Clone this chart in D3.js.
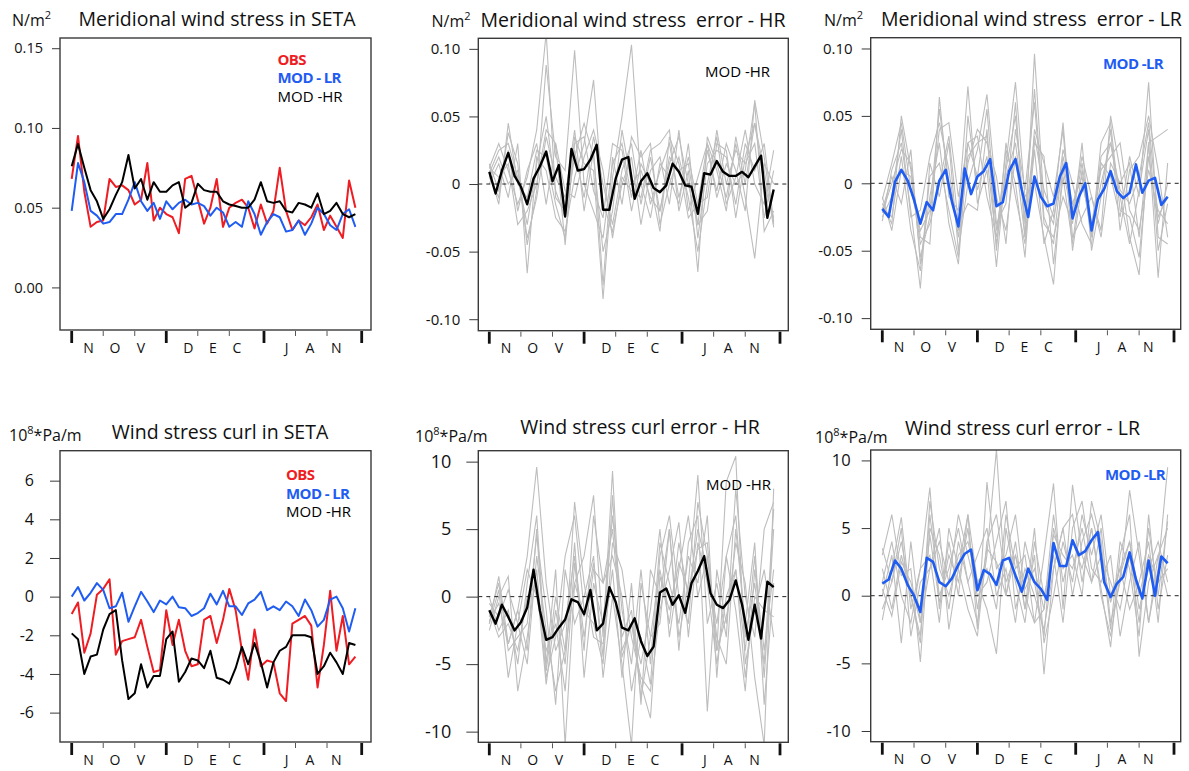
<!DOCTYPE html>
<html>
<head>
<meta charset="utf-8">
<script src="https://cdn.jsdelivr.net/npm/d3@7"></script>
<style>
body { margin: 0; background: #fff; }
svg { font-family: "Open Sans", sans-serif; }
</style>
</head>
<body>
<svg id="chart" width="1189" height="771"></svg>
<script>
// days since 1 Nov, main series every 2 days, ensemble members every 3 days
var days = d3.range(0, 91, 2);
var memberDays = d3.range(0, 91, 3);
var monthEdges = [0, 30, 61, 92];
var dekadTicks = [10, 20, 40, 50, 71, 81];
var monthLetters = ["N", "O", "V", "D", "E", "C", "J", "A", "N"];
var monthLetterDays = [5.3, 13.7, 22, 37, 44.8, 52.4, 68.2, 75.6, 83.9];

// meridional wind stress in SETA (N/m2)
var stressObs = [0.068, 0.095, 0.060, 0.038, 0.041, 0.042, 0.068, 0.063, 0.064, 0.061, 0.052, 0.055, 0.078, 0.042, 0.050, 0.046,
  0.044, 0.034, 0.068, 0.070, 0.055, 0.040, 0.050, 0.068, 0.038, 0.050, 0.053, 0.055, 0.050, 0.037, 0.052, 0.040,
  0.048, 0.075, 0.048, 0.036, 0.042, 0.039, 0.044, 0.052, 0.036, 0.045, 0.038, 0.031, 0.067, 0.050];
var stressLR = [0.048, 0.078, 0.066, 0.048, 0.045, 0.040, 0.041, 0.046, 0.046, 0.055, 0.066, 0.054, 0.048, 0.053, 0.043, 0.054,
  0.049, 0.053, 0.055, 0.052, 0.053, 0.051, 0.045, 0.050, 0.047, 0.038, 0.041, 0.038, 0.054, 0.046, 0.033, 0.041,
  0.046, 0.044, 0.035, 0.036, 0.042, 0.033, 0.040, 0.050, 0.046, 0.039, 0.036, 0.046, 0.049, 0.038];
var stressHR = [0.076, 0.090, 0.075, 0.061, 0.054, 0.043, 0.049, 0.058, 0.066, 0.083, 0.062, 0.068, 0.055, 0.066, 0.060, 0.060,
  0.064, 0.066, 0.050, 0.053, 0.065, 0.061, 0.060, 0.060, 0.054, 0.052, 0.051, 0.050, 0.050, 0.055, 0.066, 0.054,
  0.053, 0.054, 0.048, 0.047, 0.053, 0.052, 0.050, 0.059, 0.046, 0.048, 0.053, 0.046, 0.044, 0.046];

// wind stress curl in SETA (10^8 Pa/m)
var curlObs = [-0.9, -0.3, -2.9, -1.9, 0.1, 0.4, 0.9, -3.0, -2.3, -2.2, -2.1, -1.2, -2.6, -3.9, -3.8, -0.7,
  -2.5, -1.2, -2.8, -3.6, -3.5, -1.2, -1.0, -2.4, -1.2, 0.4, -0.7, -2.8, -4.3, -1.7, -3.6, -3.3,
  -3.4, -5.0, -5.4, -1.4, -1.2, -1.0, -1.5, -4.7, -2.5, 0.3, -2.8, -1.0, -3.5, -3.1];
var curlLR = [0.0, 0.5, -0.2, 0.2, 0.7, 0.35, -0.6, -0.5, 0.2, -1.3, -0.5, 0.25, -0.25, -0.8, -0.2, -0.4,
  0.0, -0.55, -0.6, -1.0, -0.85, -0.6, 0.15, -0.4, 0.3, -0.5, -0.5, -0.95, -0.35, -0.15, 0.25, -0.7,
  -0.5, -0.7, -0.25, -0.5, -1.0, -0.15, -0.7, -1.55, -1.2, -0.15, 0.0, -0.6, -1.8, -0.6];
var curlHR = [-1.9, -2.2, -4.0, -3.1, -3.0, -1.7, -0.9, -0.7, -3.3, -5.3, -5.0, -3.5, -4.7, -4.1, -4.1, -2.2,
  -1.8, -4.4, -3.9, -3.2, -3.3, -3.7, -2.8, -4.2, -4.3, -4.5, -3.7, -2.6, -3.5, -2.4, -3.4, -4.7,
  -3.4, -2.8, -2.6, -2.0, -2.0, -2.0, -2.1, -4.0, -3.6, -2.9, -3.4, -4.0, -2.4, -2.5];

// model errors, ensemble mean
var stressErrHR = [0.009, -0.007, 0.010, 0.023, 0.006, -0.002, -0.015, 0.004, 0.013, 0.024, 0.002, 0.014, -0.024, 0.026, 0.010, 0.011,
  0.018, 0.029, -0.019, -0.019, 0.004, 0.018, 0.020, -0.011, 0.002, 0.008, -0.003, -0.006, -0.001, 0.015, 0.009, -0.001,
  -0.002, -0.022, 0.008, 0.007, 0.017, 0.009, 0.006, 0.006, 0.009, 0.005, 0.013, 0.021, -0.025, -0.004];
var stressErrLR = [-0.019, -0.025, 0.001, 0.010, 0.002, -0.012, -0.030, -0.014, -0.020, 0.002, 0.010, -0.014, -0.032, 0.011, -0.008, 0.005,
  0.009, 0.018, -0.017, -0.014, 0.009, 0.018, -0.005, -0.025, 0.005, -0.010, -0.017, -0.015, 0.005, 0.015, -0.026, -0.010,
  0.000, -0.035, -0.012, -0.004, 0.009, -0.006, -0.011, -0.007, 0.014, -0.007, 0.002, 0.004, -0.016, -0.010];
var curlErrHR = [-1.0, -2.0, -0.6, -1.5, -2.5, -1.9, -0.8, 2.0, -1.0, -3.2, -3.0, -2.3, -1.7, -0.2, -0.4, -1.3,
  0.5, -2.5, -2.0, 0.7, -0.4, -2.3, -2.5, -1.6, -3.3, -4.4, -3.7, 0.3, 0.6, -0.6, 0.1, -1.2,
  1.0, 1.9, 3.0, 0.25, -0.6, -0.85, -0.25, 1.2, -0.6, -3.2, -0.6, -3.1, 1.1, 0.7];
var curlErrLR = [0.9, 1.2, 2.6, 2.0, 0.8, 0.0, -1.2, 2.8, 2.5, 1.0, 0.7, 1.3, 2.3, 3.1, 3.4, 0.4,
  1.9, 1.6, 0.8, 2.6, 2.8, 1.5, 0.3, 2.0, 1.0, 0.5, -0.3, 3.9, 2.2, 2.2, 4.1, 3.0,
  3.3, 4.1, 4.7, 1.0, -0.1, 0.9, 1.4, 3.2, 1.2, -0.2, 2.6, 0.0, 2.9, 2.4];

// individual members (grey)
var stressErrHRMembers = [
  [0.012, 0.030, 0.010, -0.015, 0.005, 0.040, 0.112, -0.010, -0.020, 0.025, -0.010, 0.035, 0.000, -0.030, 0.010, 0.030, -0.015, 0.020, -0.020, 0.015, 0.035, 0.000, -0.030, 0.025, -0.005, 0.030, 0.010, -0.020, 0.062, 0.020, -0.030],
  [0.005, -0.010, 0.038, 0.015, -0.045, -0.005, 0.088, 0.020, 0.010, 0.099, 0.000, -0.020, -0.040, 0.015, 0.030, -0.010, 0.025, -0.015, 0.010, 0.030, -0.010, 0.020, -0.015, -0.010, 0.040, 0.000, 0.025, 0.015, 0.030, -0.025, 0.010],
  [0.000, 0.015, -0.010, 0.030, -0.066, 0.020, 0.010, -0.025, -0.035, 0.005, 0.030, 0.077, -0.015, -0.035, 0.000, 0.020, -0.030, 0.010, 0.020, -0.015, 0.040, -0.020, 0.005, 0.030, 0.010, -0.020, 0.035, 0.000, 0.045, 0.010, -0.032],
  [0.015, -0.005, 0.025, -0.020, 0.010, 0.030, -0.015, 0.030, -0.045, 0.035, 0.015, 0.010, -0.085, 0.005, 0.050, 0.103, 0.000, -0.025, 0.015, 0.005, -0.015, 0.030, -0.040, 0.015, 0.025, 0.020, -0.015, 0.030, 0.010, 0.030, -0.028],
  [0.005, 0.020, 0.000, 0.010, -0.040, -0.010, 0.035, 0.005, -0.010, 0.040, -0.020, 0.025, -0.075, 0.020, -0.015, 0.035, 0.020, 0.030, -0.030, 0.000, 0.020, -0.010, -0.050, 0.000, 0.035, -0.015, 0.005, 0.040, 0.000, -0.015, 0.025],
  [0.010, -0.015, 0.045, 0.000, -0.010, 0.025, 0.020, -0.015, -0.040, 0.030, 0.035, -0.005, -0.025, 0.030, 0.025, -0.020, 0.015, 0.000, -0.035, 0.035, 0.015, -0.025, -0.015, 0.030, -0.010, 0.015, 0.000, 0.010, 0.060, -0.035, -0.020],
  [0.012, 0.005, 0.015, -0.030, -0.020, 0.000, 0.040, 0.030, -0.005, -0.010, 0.020, 0.040, 0.010, -0.040, 0.005, -0.005, -0.010, 0.025, 0.030, 0.040, -0.020, 0.010, -0.065, 0.035, 0.015, -0.010, 0.030, -0.010, -0.055, 0.015, 0.000],
  [0.008, 0.025, 0.030, 0.005, -0.030, 0.015, 0.050, -0.005, -0.025, 0.020, 0.045, 0.020, -0.050, -0.020, 0.040, 0.000, 0.010, -0.010, -0.020, 0.020, 0.010, 0.015, -0.030, -0.020, 0.030, 0.025, -0.025, 0.020, 0.045, 0.000, -0.025]
];
var stressErrLRMembers = [
  [-0.028, 0.010, 0.030, -0.020, -0.078, 0.015, -0.010, 0.030, -0.050, 0.000, 0.025, 0.066, -0.010, -0.035, 0.020, -0.040, 0.096, -0.015, -0.030, 0.025, 0.000, -0.030, -0.045, 0.015, 0.005, -0.025, 0.020, -0.010, 0.075, -0.040, -0.045],
  [-0.015, -0.030, 0.050, 0.010, -0.040, -0.045, 0.064, -0.010, -0.020, 0.072, -0.015, 0.010, -0.062, 0.015, 0.075, -0.010, 0.000, -0.040, -0.075, 0.015, -0.020, 0.020, -0.010, -0.035, 0.050, 0.010, -0.040, -0.068, 0.030, -0.070, 0.015],
  [-0.020, 0.005, -0.015, 0.025, -0.060, -0.010, 0.030, -0.030, -0.060, 0.030, 0.035, -0.010, -0.040, 0.025, 0.000, -0.055, 0.040, 0.015, -0.010, 0.040, -0.050, 0.000, -0.030, 0.010, 0.020, 0.030, -0.020, -0.035, 0.010, -0.020, -0.030],
  [-0.025, -0.010, 0.040, -0.025, -0.020, 0.020, 0.045, 0.010, -0.040, 0.015, 0.040, 0.030, 0.005, -0.045, 0.040, -0.005, 0.060, -0.030, -0.040, -0.010, -0.030, 0.030, -0.050, -0.010, 0.040, -0.035, 0.010, 0.020, 0.050, 0.010, -0.040],
  [-0.010, -0.035, 0.010, 0.005, -0.045, -0.030, 0.000, 0.035, -0.030, -0.015, -0.020, 0.040, -0.050, 0.030, -0.010, -0.045, 0.025, -0.045, -0.020, 0.045, -0.040, -0.025, -0.010, -0.040, 0.015, 0.000, 0.015, -0.040, 0.030, 0.035, 0.040],
  [-0.022, 0.000, 0.025, 0.015, -0.055, -0.025, 0.040, 0.045, -0.010, 0.030, 0.005, 0.055, -0.030, -0.015, 0.060, -0.040, 0.030, 0.020, -0.060, 0.005, -0.045, 0.010, -0.040, 0.020, 0.030, -0.010, -0.045, -0.005, 0.040, -0.050, -0.015],
  [-0.018, -0.025, 0.020, -0.035, -0.065, 0.005, 0.015, -0.020, -0.055, 0.050, -0.005, 0.020, -0.045, 0.005, 0.030, -0.025, 0.070, -0.025, -0.045, 0.020, -0.015, 0.005, -0.040, 0.030, 0.045, -0.020, -0.025, -0.055, 0.020, -0.030, 0.000],
  [-0.012, 0.015, 0.045, -0.005, -0.035, -0.020, 0.055, 0.000, -0.035, 0.020, 0.030, 0.035, -0.035, 0.010, 0.050, -0.030, 0.035, -0.005, -0.025, 0.010, -0.025, 0.015, -0.035, 0.000, 0.030, -0.005, -0.015, 0.005, 0.045, -0.025, -0.010]
];
var curlErrHRMembers = [
  [-2.0, 1.5, -3.5, -1.0, 3.0, 9.6, 1.0, -4.0, -2.0, 3.0, -3.0, 2.0, 1.0, 5.0, -3.0, -1.0, -7.5, -3.0, 2.0, -2.0, 4.0, 0.0, 5.0, 2.0, -2.0, 3.0, 6.0, -3.0, 1.0, -5.0, 6.5],
  [0.0, -2.5, -1.0, -5.0, 1.0, 6.0, -5.0, 2.0, -11.0, 1.0, 3.0, 7.5, -3.0, 9.3, -4.0, -2.0, -5.0, -1.0, 5.0, -3.0, 2.0, 6.0, 0.0, 3.0, -4.0, 8.5, 10.4, -5.0, -1.0, 2.0, -3.0],
  [-1.5, 1.0, -4.0, -3.0, -2.0, 4.5, -1.0, -8.0, 2.0, -2.0, 0.0, 3.0, -6.0, 0.0, -5.0, -11.0, 1.0, -3.0, -2.0, 5.0, -4.0, 4.0, 6.0, -8.5, 2.0, -2.0, 4.0, 1.0, -6.0, -11.0, 8.0],
  [-2.5, 0.0, 1.5, -7.0, -3.0, 2.0, -6.0, -3.0, 3.0, 6.0, -1.0, -2.0, -5.0, 4.0, 2.0, -3.0, -6.0, -7.0, -1.0, 2.0, 5.5, -3.0, 4.0, 1.0, -5.0, 0.0, 2.0, -4.0, 3.0, -6.0, 5.0],
  [-1.0, -3.0, -2.0, -4.0, 0.0, 1.0, -6.5, -1.0, -5.0, 4.0, -6.0, 1.0, -2.0, 6.0, -1.0, -5.0, 2.0, -5.0, 4.0, 1.0, -2.0, 3.0, 1.0, 6.0, -6.0, 3.0, -1.0, -7.0, 2.0, -4.0, 2.0],
  [-0.5, -1.5, 0.5, -2.0, -5.0, 3.0, -2.5, -7.0, -4.0, 7.0, 1.0, -3.0, -3.5, 2.0, -6.0, 1.0, -8.0, 2.0, 0.0, 5.0, -3.0, 1.0, 9.0, -2.0, 1.0, -3.0, 8.0, 0.0, -3.0, 5.0, 7.0],
  [-2.0, 0.5, -6.0, -2.0, 2.0, 0.0, -4.0, -2.0, -7.0, 2.5, -4.0, 6.0, 1.0, 3.0, 0.0, -7.0, -3.0, -6.5, 3.0, 6.0, 0.0, -2.0, 7.0, 3.0, -3.0, -5.0, 5.0, -2.0, 4.0, -8.0, 1.0],
  [-1.8, -0.5, -3.5, -1.0, -4.0, 5.0, -5.5, 0.0, -4.0, 1.0, -1.5, 2.5, -4.5, 7.5, -4.5, -2.0, -6.5, -9.0, 1.5, -1.0, 2.5, 0.5, 3.5, 4.0, -4.0, -1.5, 2.0, -6.0, 0.0, -1.0, -1.5]
];
var curlErrLRMembers = [
  [3.0, 6.0, 1.5, 2.0, -4.9, 5.0, 3.0, -1.0, 4.0, 1.0, -2.0, 3.0, 10.8, 0.0, 4.0, -1.0, 3.0, -5.8, 2.0, 5.0, 6.0, 1.0, 5.0, 0.5, -3.8, 3.0, 6.0, -4.5, 1.0, 3.0, 5.0],
  [-1.8, 2.0, 5.8, -1.0, 2.0, 8.0, -1.0, 4.0, 0.0, 6.0, -2.5, 8.4, 2.0, 3.0, 6.0, 0.0, -2.0, 3.0, 8.3, -1.0, 8.2, 3.0, 1.0, 5.0, -2.0, 1.0, 7.8, 3.0, -2.0, 2.0, 9.5],
  [0.0, 3.0, -3.5, 4.0, -2.0, 2.0, 5.0, -2.5, 2.0, 6.0, 1.0, -1.0, -4.3, 5.0, 1.0, -2.0, 4.0, 0.0, 3.0, -2.0, 5.0, 7.0, 2.0, 1.0, 3.0, -3.0, 1.0, 4.0, -2.0, 3.0, 0.0],
  [2.0, -1.0, 3.0, 0.0, -3.0, 6.0, 0.0, 2.0, 5.0, 1.0, 3.0, 5.0, 0.0, 2.0, -2.0, 4.0, 1.0, -3.0, 5.0, 2.0, 3.0, 0.0, 7.0, 4.0, -2.5, 4.0, 2.0, -3.0, 6.0, -1.0, 3.0],
  [1.0, 4.0, 0.0, -2.0, 2.0, 3.0, -2.0, 5.0, 2.0, -1.0, -3.0, 4.0, 6.0, 1.0, 3.0, -1.0, 5.0, -3.5, 0.0, 4.0, 1.0, 6.0, 3.0, 6.0, 0.0, 2.0, -1.0, 1.0, 4.0, -2.0, 6.0],
  [-1.0, 1.0, 4.0, 0.0, -3.5, 7.0, 2.0, 0.0, 3.0, 4.0, 1.0, 2.0, -1.0, 6.0, 2.0, 3.0, -2.0, -1.0, 6.0, 1.0, 4.0, 2.0, 5.0, 0.0, -3.0, 1.5, 4.0, -1.0, 2.0, 4.0, 1.0],
  [3.5, 1.0, 5.0, -3.0, 1.0, 2.0, 4.0, 1.0, 6.0, 3.0, 0.0, 1.0, 4.0, 7.0, -1.0, 2.0, 0.0, -2.5, 2.0, 5.0, 0.0, 4.0, 6.0, 3.0, 1.0, -1.0, 3.0, -2.0, 5.0, 0.0, 5.5],
  [0.5, -1.5, 2.5, 1.0, -2.0, 4.5, -0.5, 3.0, 1.0, 5.0, -1.0, 3.5, 2.5, 0.0, 3.0, 0.5, 2.0, -1.0, 4.5, 3.0, 2.0, 5.0, 1.0, 3.0, -0.5, 2.0, 4.0, 0.0, 3.0, 1.0, 2.0]
];

var RED = "#ee1d23", BLUE = "#1f5cf2", BLACK = "#000000", GREY = "#bdbdbd";

var stressTicks = [0, 0.05, 0.10, 0.15];
var stressErrTicks = [-0.10, -0.05, 0, 0.05, 0.10];
var curlTicks = [-6, -4, -2, 0, 2, 4, 6];
var curlErrTicks = [-10, -5, 0, 5, 10];

function fmt2(d) { return d === 0 ? "0" : d.toFixed(2); }
function fmt0(d) { return String(d); }

var svg = d3.select("#chart");

var panels = [
  {id: 1, box: [60, 371, 38, 330], xr: [71.7, 361.7], ydom: [-0.0267, 0.1564],
    ticks: stressTicks, fmt: function(d) { return d.toFixed(2); }, tickFont: 14.5, tickLen: 8, tickPad: 9,
    title: "Meridional wind stress in SETA", tx: 217, ty: 26,
    unit: ["N/m", "2", ""], ux: 12, uy: 26,
    series: [{v: stressObs, c: RED, w: 2}, {v: stressLR, c: BLUE, w: 2}, {v: stressHR, c: BLACK, w: 2}],
    legend: {x: 277.5, y: [65, 83.3, 101.7], items: [["OBS", RED, 700], ["MOD - LR", BLUE, 700], ["MOD -HR", BLACK, 400]]}},
  {id: 2, box: [478.3, 788.3, 38.3, 330.7], xr: [489.3, 780], ydom: [-0.1085, 0.1078],
    ticks: stressErrTicks, fmt: fmt2, tickFont: 15, tickLen: 9, tickPad: 9,
    title: "Meridional wind stress  error - HR", tx: 633, ty: 26.7,
    unit: ["N/m", "2", ""], ux: 431.5, uy: 26.7,
    members: stressErrHRMembers,
    series: [{v: stressErrHR, c: BLACK, w: 2.4}],
    legend: {x: 705, y: [77.3], items: [["MOD -HR", BLACK, 400]]}},
  {id: 3, box: [870.7, 1180.7, 37.7, 329.3], xr: [882.3, 1174], ydom: [-0.1083, 0.108],
    ticks: stressErrTicks, fmt: fmt2, tickFont: 15, tickLen: 9, tickPad: 9,
    title: "Meridional wind stress  error - LR", tx: 1031.5, ty: 26,
    unit: ["N/m", "2", ""], ux: 824, uy: 26,
    members: stressErrLRMembers,
    series: [{v: stressErrLR, c: BLUE, w: 2.6}],
    legend: {x: 1103, y: [69], items: [["MOD -LR", BLUE, 700]]}},
  {id: 4, box: [60, 371, 450.7, 742], xr: [71.7, 361.7], ydom: [-7.52, 7.55],
    ticks: curlTicks, fmt: fmt0, tickFont: 16, tickLen: 10, tickPad: 16,
    title: "Wind stress curl in SETA", tx: 220, ty: 439,
    unit: ["10", "8", "*Pa/m"], ux: 9, uy: 441,
    series: [{v: curlObs, c: RED, w: 2}, {v: curlLR, c: BLUE, w: 2}, {v: curlHR, c: BLACK, w: 2}],
    legend: {x: 286, y: [480, 499, 517.3], items: [["OBS", RED, 700], ["MOD - LR", BLUE, 700], ["MOD -HR", BLACK, 400]]}},
  {id: 5, box: [478.3, 788.3, 450.7, 742.3], xr: [489.3, 780], ydom: [-10.79, 10.81],
    ticks: curlErrTicks, fmt: fmt0, tickFont: 18, tickLen: 12, tickPad: 15,
    title: "Wind stress curl error - HR", tx: 640, ty: 433.5,
    unit: ["10", "8", "*Pa/m"], ux: 415, uy: 442,
    members: curlErrHRMembers,
    series: [{v: curlErrHR, c: BLACK, w: 2.4}],
    legend: {x: 706, y: [490], items: [["MOD -HR", BLACK, 400]]}},
  {id: 6, box: [870.7, 1180.7, 450, 741.7], xr: [882.3, 1174], ydom: [-10.79, 10.77],
    ticks: curlErrTicks, fmt: fmt0, tickFont: 16.5, tickLen: 9, tickPad: 11,
    title: "Wind stress curl error - LR", tx: 1022.5, ty: 435,
    unit: ["10", "8", "*Pa/m"], ux: 815, uy: 443,
    members: curlErrLRMembers,
    series: [{v: curlErrLR, c: BLUE, w: 2.6}],
    legend: {x: 1105, y: [480], items: [["MOD -LR", BLUE, 700]]}}
];

function drawPanel(p) {
  var x = d3.scaleLinear().domain([0, 92]).range(p.xr);
  var y = d3.scaleLinear().domain(p.ydom).range([p.box[3], p.box[2]]);
  var g = svg.append("g");

  svg.append("clipPath").attr("id", "clip" + p.id)
    .append("rect")
    .attr("x", p.box[0])
    .attr("y", p.box[2])
    .attr("width", p.box[1] - p.box[0])
    .attr("height", p.box[3] - p.box[2]);

  var plot = g.append("g").attr("clip-path", "url(#clip" + p.id + ")");

  if (p.members) {
    var mline = d3.line()
      .x(function(d, i) { return x(memberDays[i]); })
      .y(function(d) { return y(d); });
    p.members.forEach(function(m) {
      plot.append("path")
        .attr("d", mline(m))
        .attr("fill", "none")
        .attr("stroke", GREY)
        .attr("stroke-width", 1.1);
    });
    plot.append("line")
      .attr("x1", p.box[0]).attr("x2", p.box[1])
      .attr("y1", y(0)).attr("y2", y(0))
      .attr("stroke", "#222")
      .attr("stroke-width", 1)
      .attr("stroke-dasharray", "4,4");
  }

  var line = d3.line()
    .x(function(d, i) { return x(days[i]); })
    .y(function(d) { return y(d); });
  p.series.forEach(function(s) {
    plot.append("path")
      .attr("d", line(s.v))
      .attr("fill", "none")
      .attr("stroke", s.c)
      .attr("stroke-width", s.w)
      .attr("stroke-linejoin", "round");
  });

  // frame
  g.append("rect")
    .attr("x", p.box[0])
    .attr("y", p.box[2])
    .attr("width", p.box[1] - p.box[0])
    .attr("height", p.box[3] - p.box[2])
    .attr("fill", "none")
    .attr("stroke", "#3a3a3a")
    .attr("stroke-width", 1.4);

  var yAxis = d3.axisLeft(y)
    .tickValues(p.ticks)
    .tickSize(p.tickLen)
    .tickPadding(p.tickPad)
    .tickFormat(p.fmt);
  var ya = g.append("g")
    .attr("transform", "translate(" + p.box[0] + ",0)")
    .call(yAxis);
  ya.select(".domain").remove();
  ya.selectAll(".tick line").attr("stroke", "#3a3a3a");
  ya.selectAll(".tick text")
    .attr("font-family", "'Open Sans', sans-serif")
    .attr("font-size", p.tickFont)
    .attr("fill", "#111");
  ya.attr("font-family", null).attr("font-size", null);

  // month ticks under the frame
  var base = p.box[3] + 1;
  g.selectAll(".mt").data(monthEdges).enter().append("line")
    .attr("x1", function(d) { return x(d); }).attr("x2", function(d) { return x(d); })
    .attr("y1", base).attr("y2", base + 12)
    .attr("stroke", "#111").attr("stroke-width", 2.8);
  g.selectAll(".dt").data(dekadTicks).enter().append("line")
    .attr("x1", function(d) { return x(d); }).attr("x2", function(d) { return x(d); })
    .attr("y1", base).attr("y2", base + 5)
    .attr("stroke", "#555").attr("stroke-width", 1);
  g.selectAll(".ml").data(monthLetters).enter().append("text")
    .attr("x", function(d, i) { return x(monthLetterDays[i]); })
    .attr("y", p.box[3] + 22.5)
    .attr("text-anchor", "middle")
    .attr("font-size", 14)
    .attr("fill", "#111")
    .text(function(d) { return d; });

  // title and unit
  g.append("text")
    .attr("x", p.tx).attr("y", p.ty)
    .attr("text-anchor", "middle")
    .attr("font-size", 19.5)
    .attr("fill", "#111")
    .style("white-space", "pre")
    .text(p.title);

  var u = g.append("text")
    .attr("x", p.ux).attr("y", p.uy)
    .attr("font-size", 16)
    .attr("fill", "#111");
  u.append("tspan").text(p.unit[0]);
  u.append("tspan").attr("dy", -7).attr("font-size", 11).text(p.unit[1]);
  if (p.unit[2]) u.append("tspan").attr("dy", 7).text(p.unit[2]);

  // legend
  p.legend.items.forEach(function(it, i) {
    g.append("text")
      .attr("x", p.legend.x).attr("y", p.legend.y[i])
      .attr("font-size", 15)
      .attr("font-weight", it[2])
      .attr("fill", it[1])
      .attr("letter-spacing", it[2] === 700 ? -0.6 : 0)
      .text(it[0]);
  });
}

panels.forEach(drawPanel);
</script>
</body>
</html>
